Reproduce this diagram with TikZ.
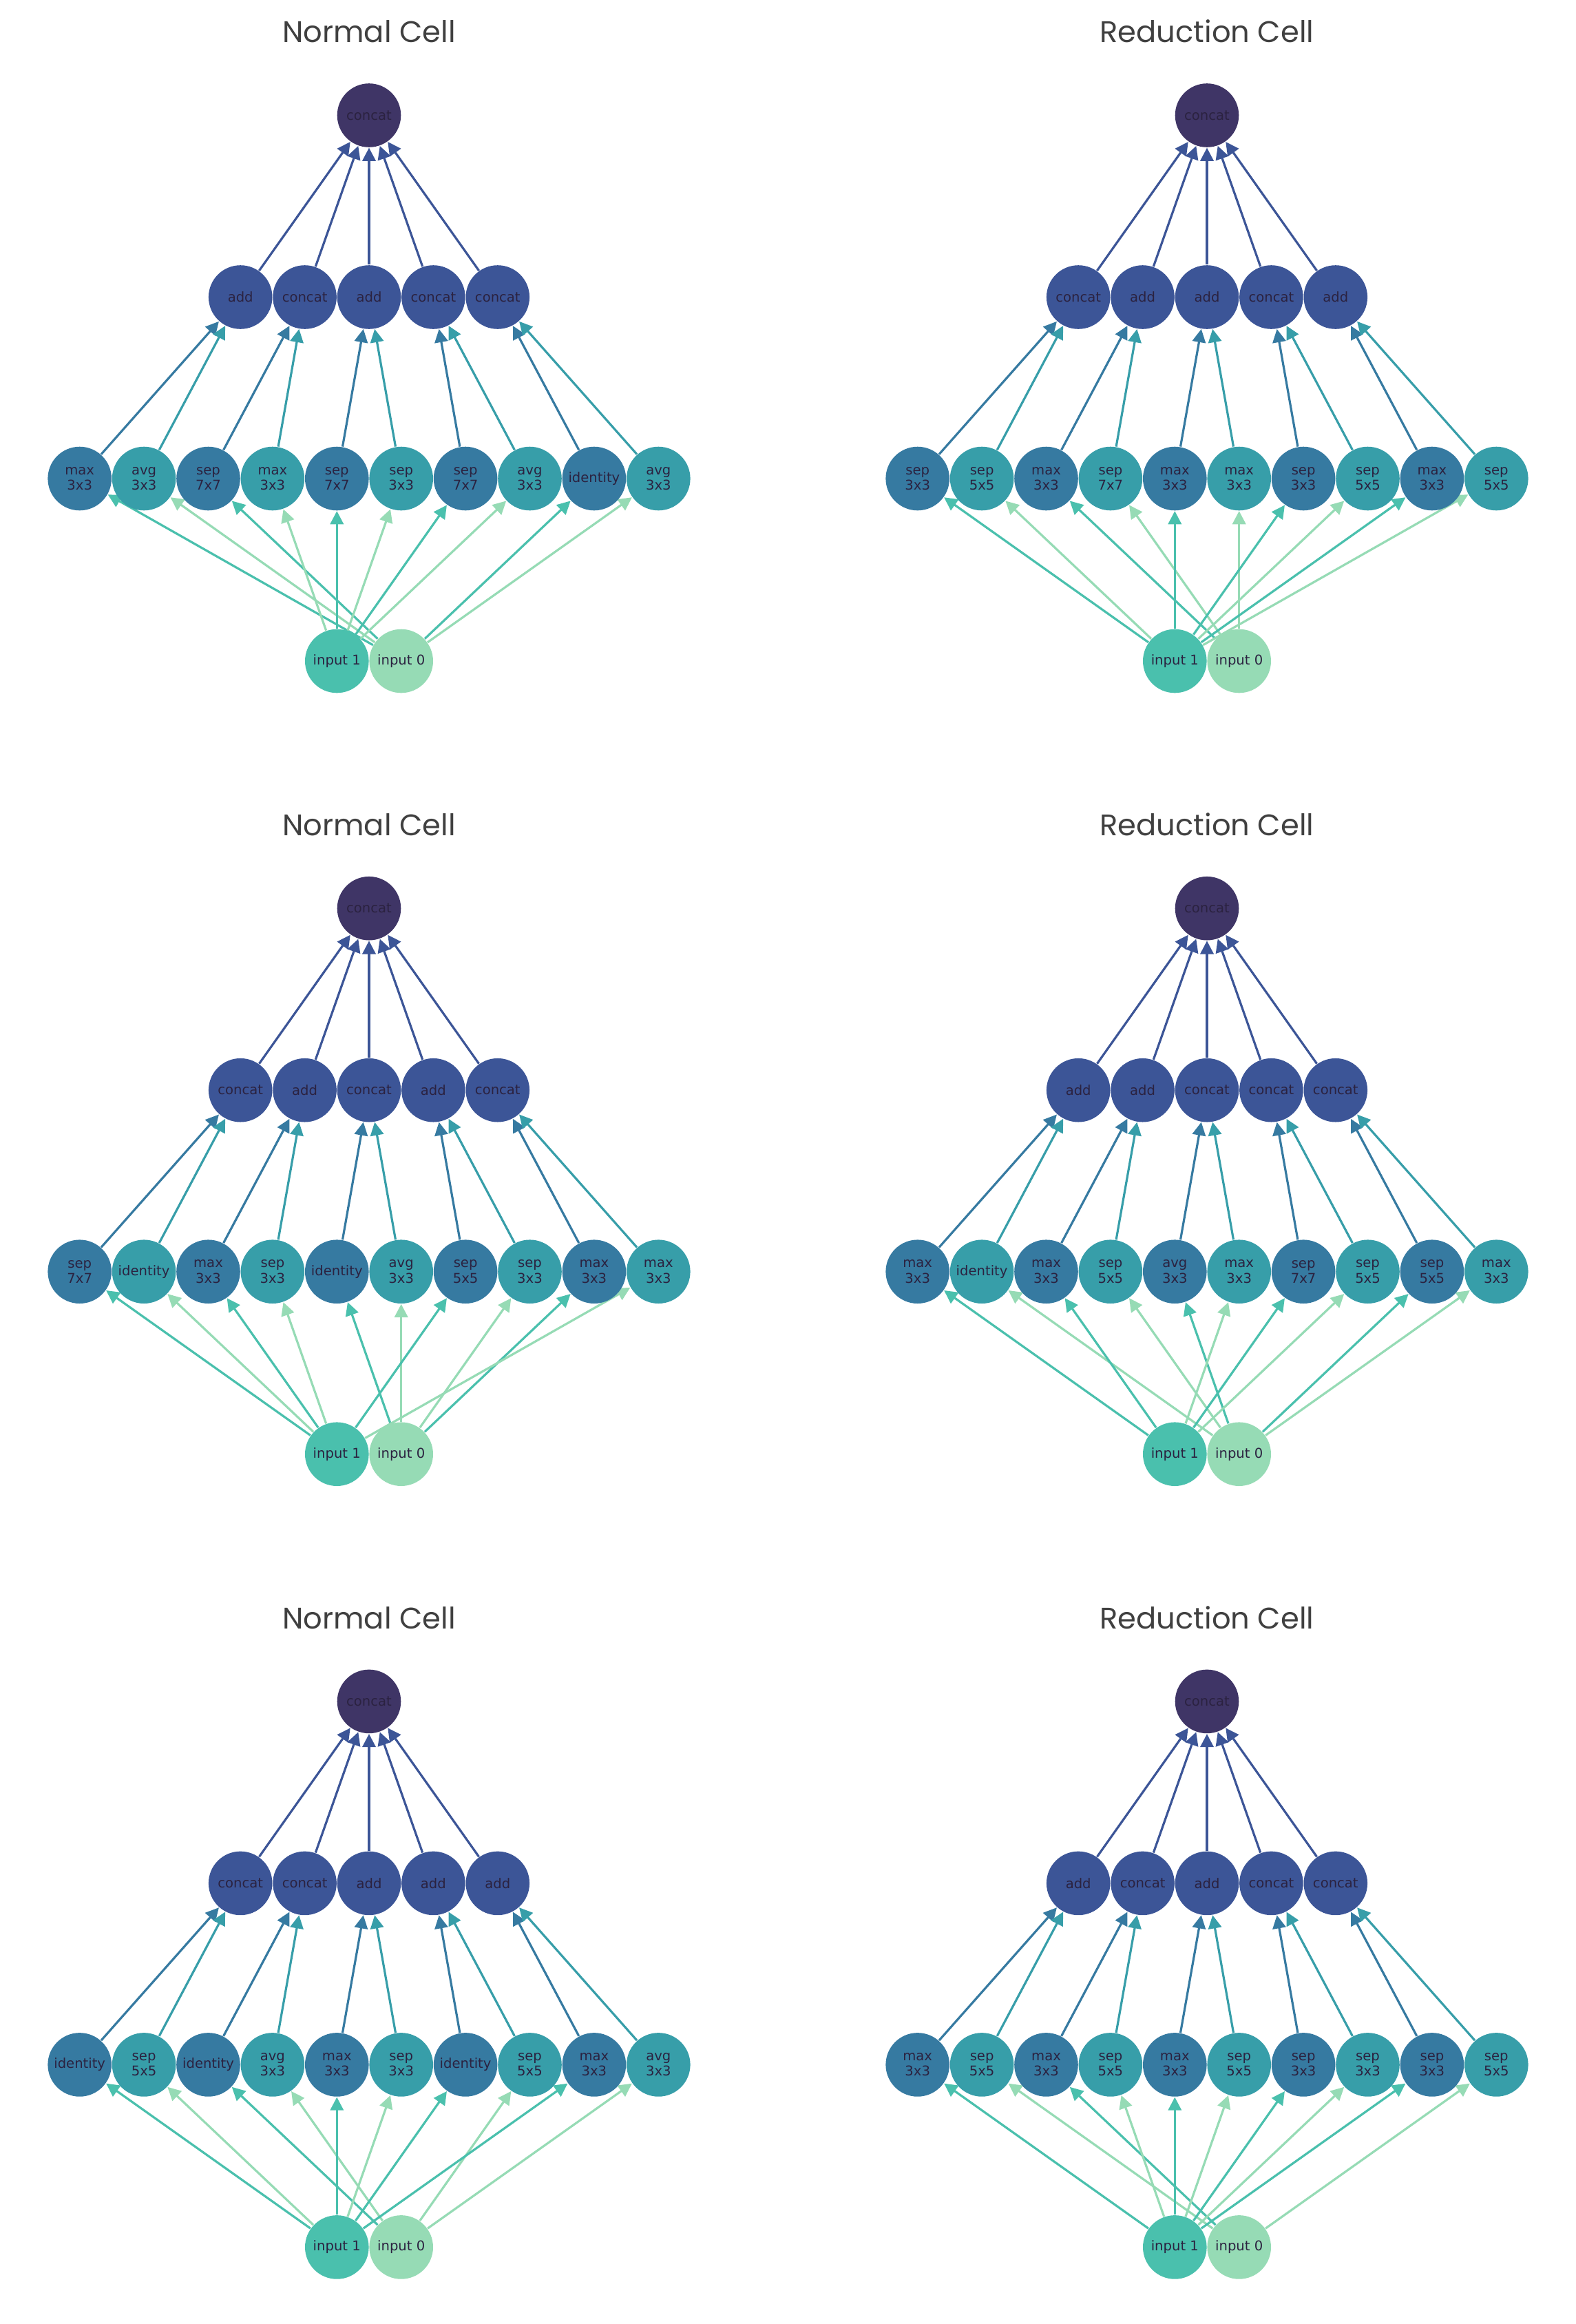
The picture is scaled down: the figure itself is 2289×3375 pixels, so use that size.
\documentclass[tikz,border=0pt]{standalone}
\usepackage{fontspec}
\usetikzlibrary{arrows.meta}
\newfontfamily\titlefont{Poppins}
\newfontfamily\nodefont{DejaVu Sans}
\definecolor{topc}{HTML}{3F3566}
\definecolor{midc}{HTML}{3C5597}
\definecolor{opeven}{HTML}{367AA1}
\definecolor{opodd}{HTML}{379EA9}
\definecolor{inone}{HTML}{4AC0AD}
\definecolor{inzero}{HTML}{96DBB5}
\definecolor{labc}{HTML}{2B2240}
\definecolor{titlec}{HTML}{404040}
\pgfdeclarelayer{edges}
\pgfsetlayers{edges,main}
\tikzset{
  cellnode/.style={circle, minimum size=23.15pt, inner sep=0pt, draw=none, text=labc,
    font=\nodefont\fontsize{4.9}{5.6}\selectfont, align=center},
  titlestyle/.style={text=titlec, font=\titlefont\fontsize{10.8}{13}\selectfont, inner sep=0pt},
  conn/.style={line width=0.8pt, -{Triangle[length=4.8pt,width=4.8pt]}},
}
% #1 id, #2 centre x, #3 row offset, #4 title, #5 ops, #6 mid nodes, #7 input source of each op
\newcommand\drawcell[7]{%
  \node[titlestyle, anchor=base] (#1title) at (#2,{#3+61.7}) {#4};
  \node[cellnode, fill=topc] (#1top) at (#2,{#3+167.5}) {concat};
  \foreach \lab [count=\i from 0] in {#6} {
    \node[cellnode, fill=midc] (#1mid\i) at ({#2+(\i-2)*93.4},{#3+431.5}) {\lab};
  }
  \foreach \lab [count=\i from 0] in {#5} {
    \ifodd\i\def\fc{opodd}\else\def\fc{opeven}\fi
    \node[cellnode, fill=\fc] (#1op\i) at ({#2+(\i-4.5)*93.4},{#3+695}) {\lab};
  }
  \node[cellnode, fill=inone] (#1in1) at ({#2-46.7},{#3+960}) {input 1};
  \node[cellnode, fill=inzero] (#1in0) at ({#2+46.7},{#3+960}) {input 0};
  \begin{pgfonlayer}{edges}
    \foreach \m in {0,...,4} {\draw[conn, color=midc] (#1mid\m) -- (#1top);}
    \foreach \k in {0,...,9} {
      \pgfmathtruncatemacro\m{int(\k/2)}
      \ifodd\k\def\fc{opodd}\else\def\fc{opeven}\fi
      \draw[conn, color=\fc] (#1op\k) -- (#1mid\m);
    }
    \foreach \s [count=\k from 0] in {#7} {
      \ifodd\k\def\fc{inzero}\else\def\fc{inone}\fi
      \draw[conn, color=\fc] (#1in\s) -- (#1op\k);
    }
  \end{pgfonlayer}
}
\begin{document}
\begin{tikzpicture}[x=0.25pt, y=-0.25pt]
\useasboundingbox (0,0) rectangle (2289,3375);
\drawcell{a}{536}{0}{Normal Cell}%
  {{max\\3x3},{avg\\3x3},{sep\\7x7},{max\\3x3},{sep\\7x7},{sep\\3x3},{sep\\7x7},{avg\\3x3},identity,{avg\\3x3}}%
  {add,concat,add,concat,concat}{0,0,0,1,1,1,1,1,0,0}
\drawcell{b}{1753}{0}{Reduction Cell}%
  {{sep\\3x3},{sep\\5x5},{max\\3x3},{sep\\7x7},{max\\3x3},{max\\3x3},{sep\\3x3},{sep\\5x5},{max\\3x3},{sep\\5x5}}%
  {concat,add,add,concat,add}{1,1,0,0,1,0,1,1,1,1}
\drawcell{c}{536}{1151.7}{Normal Cell}%
  {{sep\\7x7},identity,{max\\3x3},{sep\\3x3},identity,{avg\\3x3},{sep\\5x5},{sep\\3x3},{max\\3x3},{max\\3x3}}%
  {concat,add,concat,add,concat}{1,1,1,1,0,0,1,0,0,1}
\drawcell{d}{1753}{1151.7}{Reduction Cell}%
  {{max\\3x3},identity,{max\\3x3},{sep\\5x5},{avg\\3x3},{max\\3x3},{sep\\7x7},{sep\\5x5},{sep\\5x5},{max\\3x3}}%
  {add,add,concat,concat,concat}{1,0,1,0,0,1,1,1,0,0}
\drawcell{e}{536}{2303.4}{Normal Cell}%
  {identity,{sep\\5x5},identity,{avg\\3x3},{max\\3x3},{sep\\3x3},identity,{sep\\5x5},{max\\3x3},{avg\\3x3}}%
  {concat,concat,add,add,add}{1,1,0,0,1,1,1,0,1,0}
\drawcell{f}{1753}{2303.4}{Reduction Cell}%
  {{max\\3x3},{sep\\5x5},{max\\3x3},{sep\\5x5},{max\\3x3},{sep\\5x5},{sep\\3x3},{sep\\3x3},{sep\\3x3},{sep\\5x5}}%
  {add,concat,add,concat,concat}{1,0,0,1,1,1,1,1,1,0}
\end{tikzpicture}
\end{document}
